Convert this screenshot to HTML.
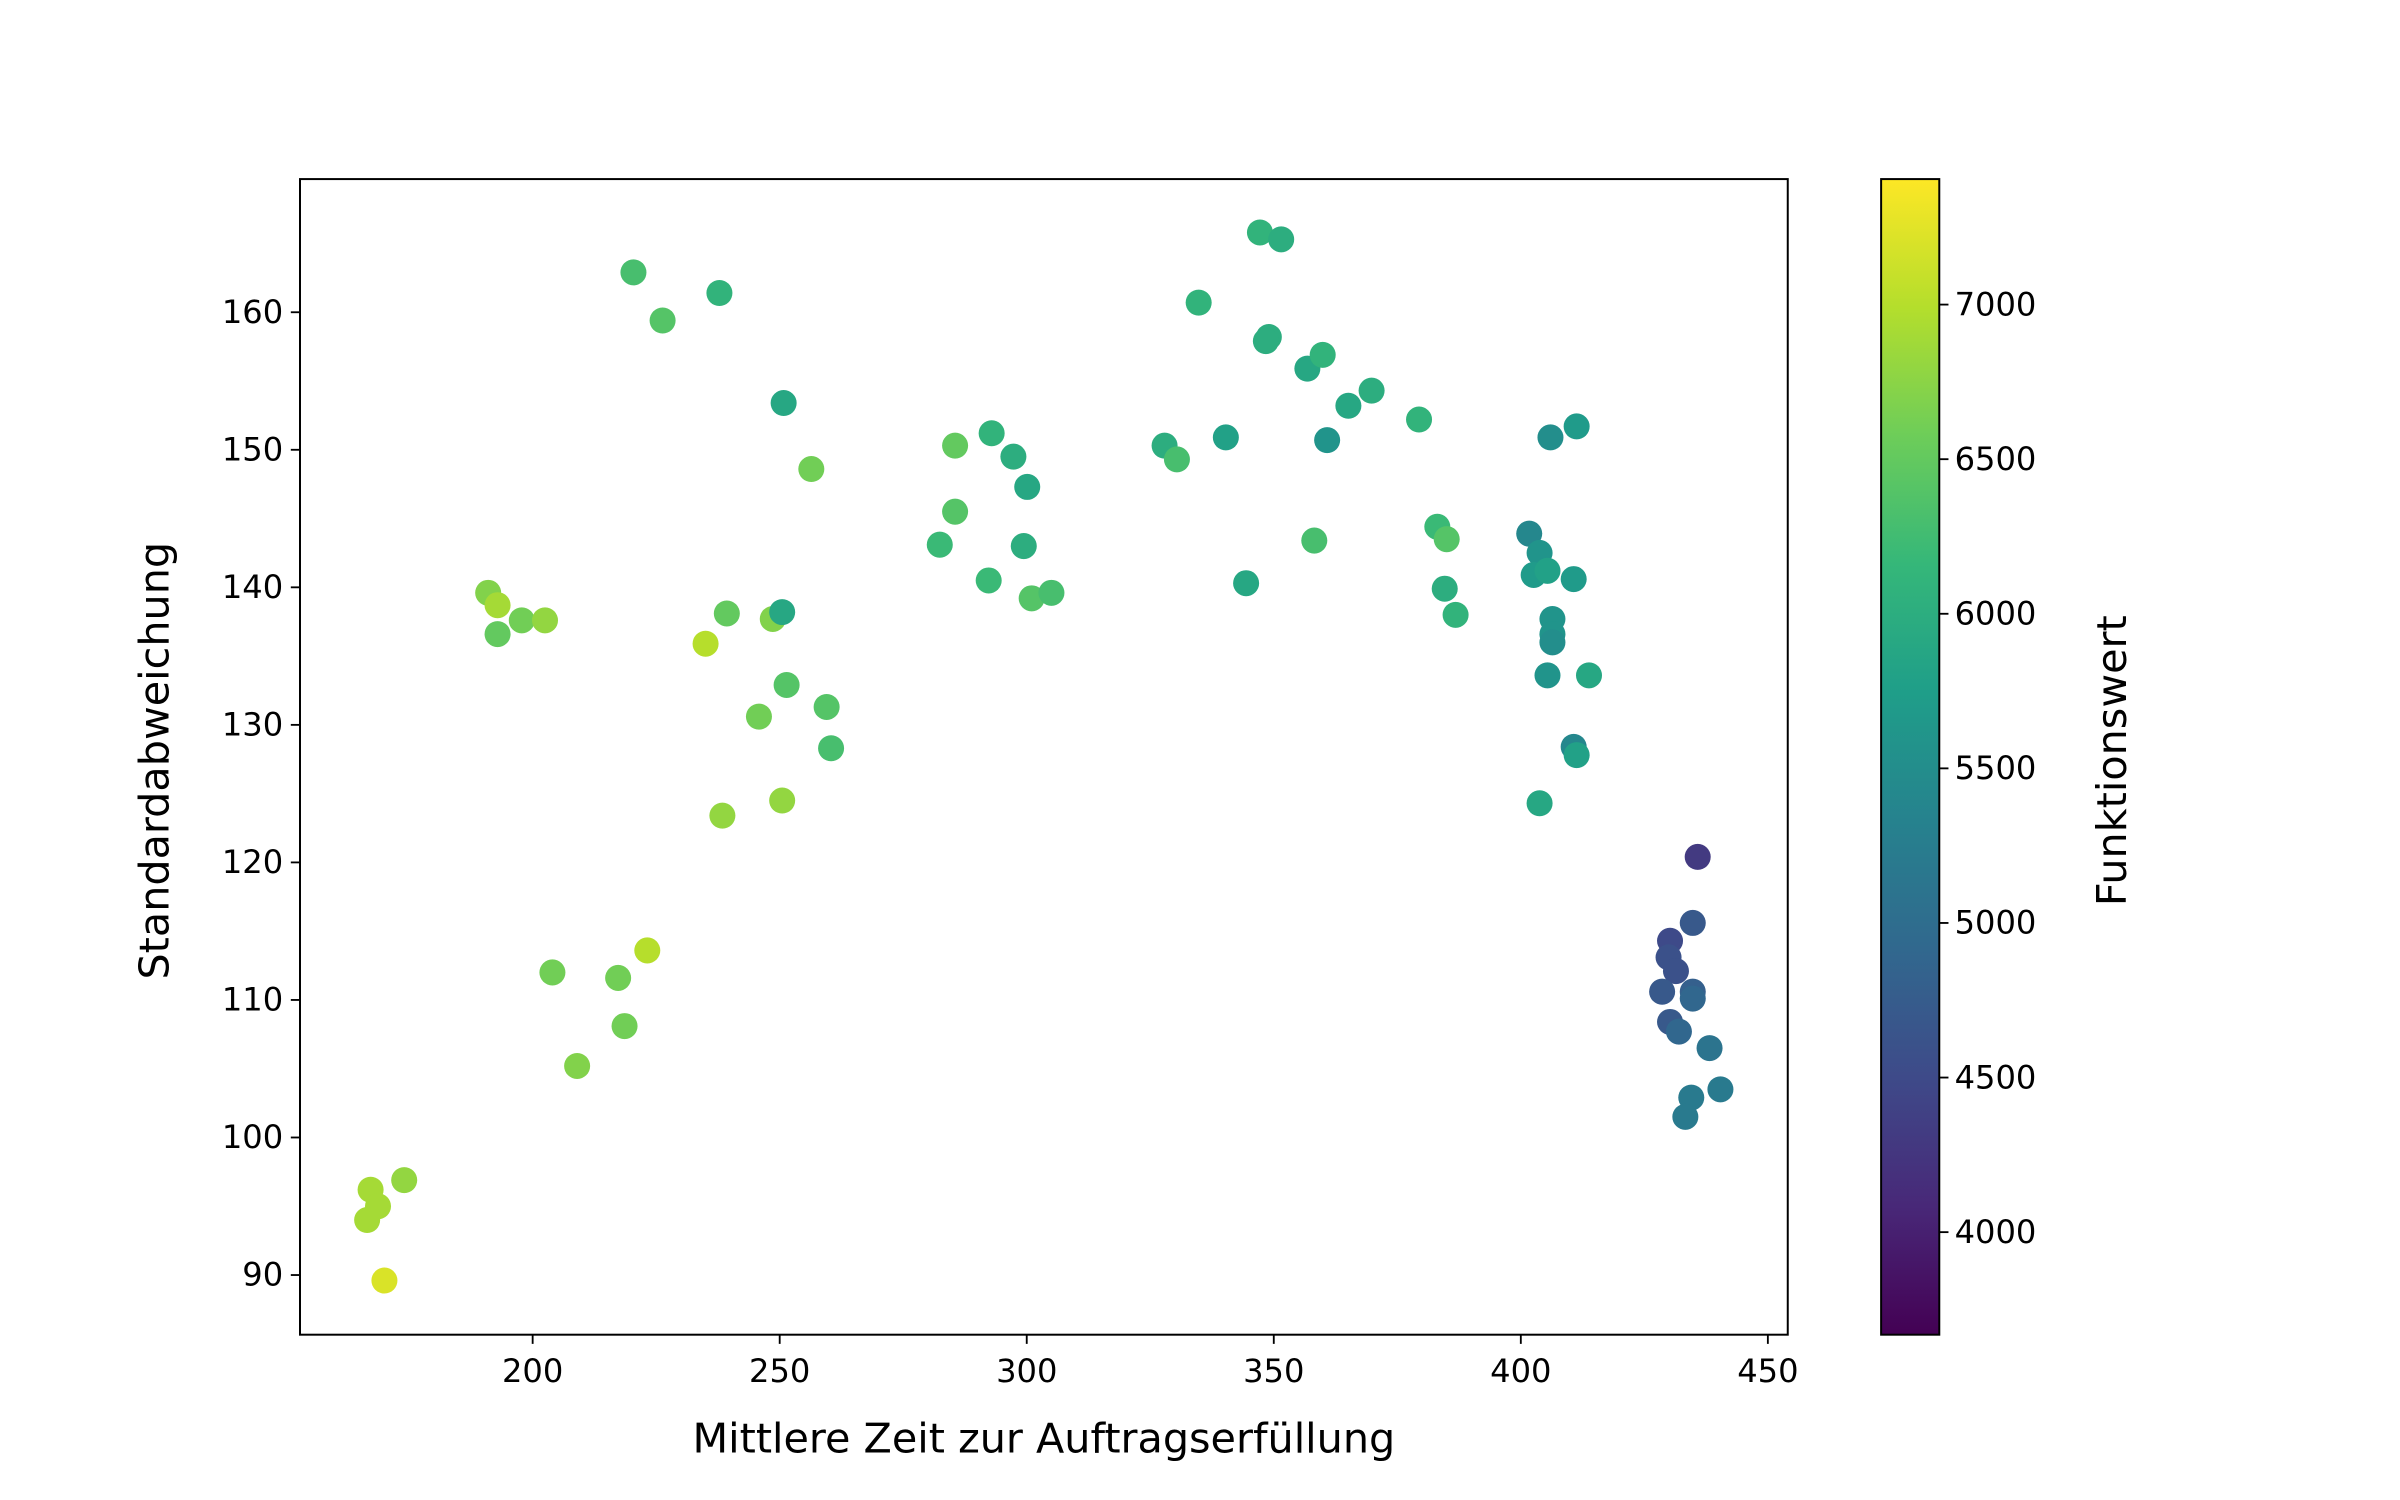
<!DOCTYPE html>
<html><head><meta charset="utf-8"><style>body{margin:0;background:#fff}svg{display:block}text{font-family:"DejaVu Sans","Liberation Sans",sans-serif;fill:#000}</style></head>
<body>
<svg id="chart" width="2400" height="1500" viewBox="0 0 1568 980">
<defs><linearGradient id="vir" x1="0" y1="1" x2="0" y2="0"></linearGradient></defs>
<g id="plot"></g>
</svg>
<script>
const xVals=[220.4,226.3,237.8,250.8,256.4,191,192.9,192.9,197.8,202.5,235,239.3,248.6,250.5,251.4,259.5,260.4,245.8,250.5,238.4,223.2,204,217.3,218.6,209,174,167.2,168.7,166.5,170,285.5,285.5,282.4,292.9,297.3,300.1,299.4,292.3,301,305,327.9,330.4,334.8,340.3,344.4,347.2,351.5,349,348.4,356.8,359.9,365.1,369.8,360.8,358.2,379.4,383.1,385,384.6,386.8,406,411.3,401.7,403.8,402.6,405.4,410.7,406.4,406.4,406.4,405.4,413.8,410.7,411.3,403.8,435.8,434.8,430.2,429.9,431.4,428.6,434.8,434.8,430.2,432,438.2,440.4,434.5,433.3];
const yVals=[162.9,159.4,161.4,153.4,148.6,139.6,138.7,136.6,137.6,137.6,135.9,138.1,137.7,138.2,132.9,131.3,128.3,130.6,124.5,123.4,113.6,112.0,111.6,108.1,105.2,96.9,96.2,95.0,94.0,89.6,150.3,145.5,143.1,151.2,149.5,147.3,143.0,140.5,139.2,139.6,150.3,149.3,160.7,150.9,140.3,165.8,165.3,158.2,157.9,155.9,156.9,153.2,154.3,150.7,143.4,152.2,144.4,143.5,139.9,138.0,150.9,151.7,143.9,142.5,140.9,141.2,140.6,137.7,136.6,136.0,133.6,133.6,128.4,127.8,124.3,120.4,115.6,114.3,113.1,112.1,110.6,110.6,110.1,108.4,107.7,106.5,103.5,102.9,101.5];
const cVals=[6300,6400,6100,5900,6600,6700,6900,6500,6600,6800,7000,6500,6700,5900,6400,6400,6300,6600,6800,6800,7000,6600,6600,6600,6700,6800,6900,6900,6900,7200,6500,6400,6200,6100,6000,5900,6000,6200,6400,6300,6000,6300,6100,5800,5900,6100,6000,6000,6000,5900,6100,5900,6000,5600,6300,6100,6200,6400,6000,6100,5500,5700,5400,5600,5700,5800,5700,5600,5600,5500,5600,5900,5400,5800,5900,4300,4700,4500,4600,4600,4700,4800,4900,4700,4900,5100,5200,5200,5200];
const xTicks=[200,250,300,350,400,450];
const yTicks=[90,100,110,120,130,140,150,160];
const cTicks=[4000,4500,5000,5500,6000,6500,7000];
const cMin=3668,cMax=7406;
const L=196,R=1168,T=117,B=872;
const sx=v=>348+(v-200)*3.228;
const sy=v=>204-(v-160)*8.986;
const cbL=1229,cbR=1267;
const sc=v=>805-(v-4000)*0.202;
const vir=[[68,1,84],[72,40,120],[62,74,137],[49,104,142],[38,130,142],[31,158,137],[53,183,121],[109,205,89],[180,222,44],[253,231,37]];
function col(v){let t=Math.max(0,Math.min(1,(v-cMin)/(cMax-cMin)))*(vir.length-1);let i=Math.min(vir.length-2,Math.floor(t)),f=t-i;let c=vir[i].map((a,k)=>Math.round(a+(vir[i+1][k]-a)*f));return `rgb(${c})`;}
const NS="http://www.w3.org/2000/svg",g=document.getElementById('plot');
function mk(tag,at,txt){const e=document.createElementNS(NS,tag);for(const k in at)e.setAttribute(k,at[k]);if(txt!=null)e.textContent=txt;g.appendChild(e);return e;}
const grad=document.getElementById('vir');
vir.forEach((c,i)=>{const s=document.createElementNS(NS,'stop');s.setAttribute('offset',i/(vir.length-1));s.setAttribute('stop-color',`rgb(${c})`);grad.appendChild(s);});
for(let i=0;i<xVals.length;i++){const p=mk('circle',{cx:sx(xVals[i]),cy:sy(yVals[i]),r:8.5,fill:col(cVals[i])});

}
let f=mk('rect',{x:L,y:T,width:R-L,height:B-T,fill:'none',stroke:'#000','stroke-width':1.3});


xTicks.forEach(v=>{const x=sx(v);mk('line',{x1:x,x2:x,y1:B,y2:B+6,stroke:'#000','stroke-width':1.2});const t=mk('text',{x:x,y:B+31,'font-size':21,'text-anchor':'middle'},v);

});
yTicks.forEach(v=>{const y=sy(v);mk('line',{x1:L,x2:L-6,y1:y,y2:y,stroke:'#000','stroke-width':1.2});const t=mk('text',{x:L-11,y:y+7,'font-size':21,'text-anchor':'end'},v);

});
let xt=mk('text',{x:682,y:949,'font-size':27,'text-anchor':'middle'},'Mittlere Zeit zur Auftragserfüllung');


let yt=mk('text',{x:0,y:0,'font-size':27,'text-anchor':'middle',transform:'translate(110,497) rotate(-90)'},'Standardabweichung');


let cb=mk('rect',{x:cbL,y:T,width:cbR-cbL,height:B-T,fill:'url(#vir)',stroke:'#000','stroke-width':1.3});


cTicks.forEach(v=>{const y=sc(v);mk('line',{x1:cbR,x2:cbR+6,y1:y,y2:y,stroke:'#000','stroke-width':1.2});const t=mk('text',{x:cbR+10,y:y+7,'font-size':21},v);

});
let ct=mk('text',{x:0,y:0,'font-size':27,'text-anchor':'middle',transform:'translate(1389,497) rotate(-90)'},'Funktionswert');


</script>
</body></html>
